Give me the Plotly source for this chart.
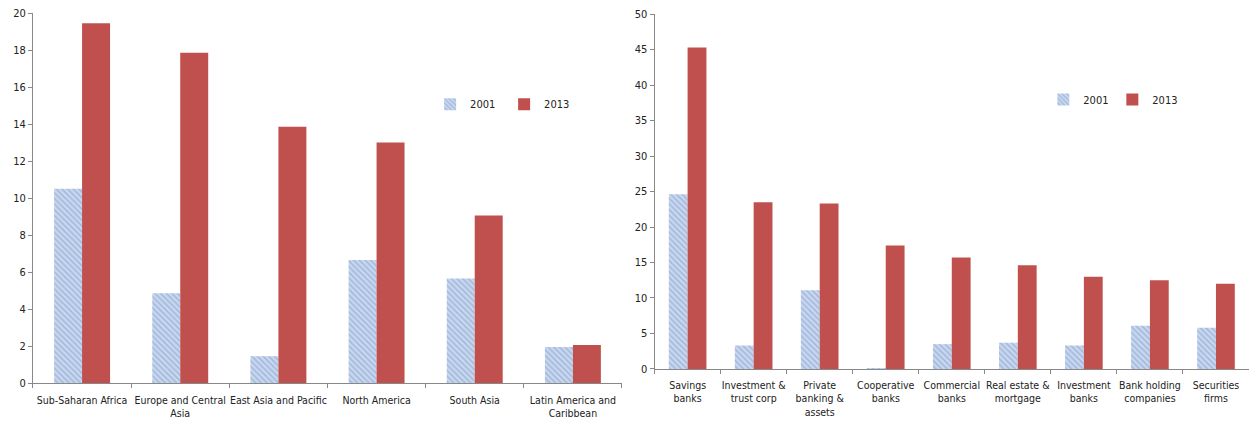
import plotly.graph_objects as go

regions = ["Sub-Saharan Africa", "Europe and Central<br>Asia", "East Asia and Pacific",
           "North America", "South Asia", "Latin America and<br>Caribbean"]
reg_2001 = [10.5, 4.85, 1.45, 6.65, 5.65, 1.95]
reg_2013 = [19.45, 17.85, 13.85, 13.0, 9.05, 2.05]

inst = ["Savings<br>banks", "Investment &<br>trust corp", "Private<br>banking &<br>assets",
        "Cooperative<br>banks", "Commercial<br>banks", "Real estate &<br>mortgage",
        "Investment<br>banks", "Bank holding<br>companies", "Securities<br>firms"]
inst_2001 = [24.6, 3.3, 11.1, 0.1, 3.5, 3.7, 3.3, 6.1, 5.8]
inst_2013 = [45.3, 23.5, 23.3, 17.4, 15.7, 14.6, 13.0, 12.5, 12.0]

BLUE_BG = "#c9d7ee"
BLUE_FG = "#6f93c8"
RED = "#C0504D"
FONT = "DejaVu Sans Condensed, Liberation Sans Narrow, Roboto Condensed, DejaVu Sans, sans-serif"

pat = dict(shape="\\", bgcolor=BLUE_BG, fgcolor=BLUE_FG, size=4, solidity=0.35)

fig = go.Figure()
fig.add_bar(x=regions, y=reg_2001, name="2001", xaxis="x", yaxis="y",
            marker=dict(color=BLUE_BG, pattern=pat, line=dict(width=0)), legend="legend")
fig.add_bar(x=regions, y=reg_2013, name="2013", xaxis="x", yaxis="y",
            marker=dict(color=RED, line=dict(width=0)), legend="legend")
fig.add_bar(x=inst, y=inst_2001, name="2001", xaxis="x2", yaxis="y2",
            marker=dict(color=BLUE_BG, pattern=pat, line=dict(width=0)), legend="legend2")
fig.add_bar(x=inst, y=inst_2013, name="2013", xaxis="x2", yaxis="y2",
            marker=dict(color=RED, line=dict(width=0)), legend="legend2")

tf = dict(family=FONT, size=11, color="#222222")
xf = dict(family=FONT, size=10.5, color="#222222")
axis_common = dict(showline=True, linecolor="#888888", linewidth=1, showgrid=False,
                   zeroline=False, ticks="outside", tickcolor="#888888", ticklen=4,
                   automargin=False)

fig.update_layout(
    width=1254, height=425,
    margin=dict(l=0, r=0, t=0, b=0),
    paper_bgcolor="white", plot_bgcolor="white",
    barmode="group", bargap=0.43, bargroupgap=0,
    font=tf,
    xaxis=dict(domain=[0.0263, 0.496], anchor="y", tickson="boundaries", tickangle=0,
               ticklabelstandoff=7, tickfont=xf, **axis_common),
    yaxis=dict(domain=[0.0988, 0.9694], anchor="x", range=[0, 20], dtick=2, tickfont=tf,
               **axis_common),
    xaxis2=dict(domain=[0.522, 0.996], anchor="y2", tickson="boundaries", tickangle=0,
                ticklabelstandoff=6, tickfont=xf, **axis_common),
    yaxis2=dict(domain=[0.1318, 0.967], anchor="x2", range=[0, 50], dtick=5, tickfont=tf,
                **axis_common),
    legend=dict(orientation="h", x=0.343, y=0.755, xanchor="left", yanchor="middle",
                entrywidth=29, bgcolor="rgba(0,0,0,0)", font=tf, itemwidth=30),
    legend2=dict(orientation="h", x=0.832, y=0.766, xanchor="left", yanchor="middle",
                 entrywidth=24, bgcolor="rgba(0,0,0,0)", font=tf, itemwidth=30),
)

fig.write_html("out.html")
